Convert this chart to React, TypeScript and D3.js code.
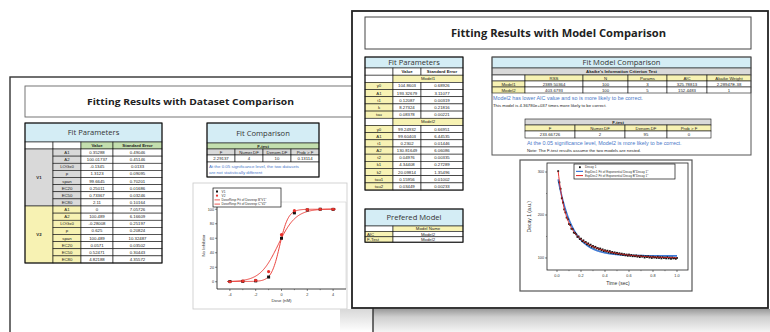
import React from 'react';
import * as d3 from 'd3';

// ---------- Data: back sheet (dataset comparison) ----------
const paramNames = ['A1', 'A2', 'LOGx0', 'p', 'span', 'EC20', 'EC50', 'EC80'];
const v1Values = ['0.35288', '100.01737', '-0.1345', '1.3123', '99.6645', '0.25011', '0.73367', '2.11'];
const v1Errors = ['0.49046', '0.45146', '0.0133', '0.09095', '0.70201', '0.01686', '0.03246', '0.10164'];
const v2Values = ['0', '100.489', '-0.28008', '0.625', '100.489', '0.0571', '0.52471', '4.82188'];
const v2Errors = ['7.05726', '6.16609', '0.25197', '0.20824', '10.32487', '0.03502', '0.30443', '4.35572'];

const fHeaders = ['F', 'Numer.DF', 'Denom.DF', 'Prob > F'];
const datasetF = ['2.29137', '4', '10', '0.13114'];
const datasetNote = ['At the 0.05 significance level, the two datasets', 'are not statistically different'];

const doseX = [-4, -3, -2, -1, 0, 1, 2, 3, 4];
const v1Resp = [0.3, 0.5, 1.2, 6.5, 60, 95, 99, 100, 99.8];
const v2Resp = [0, 1, 2, 14, 65, 98, 99.5, 100, 100];
const doseXTicks = [-4, -2, 0, 2, 4];
const doseYTicks = [0, 20, 40, 60, 80, 100];
const doseLegend = ['V1', 'V2', 'DoseResp Fit of Dosresp B"V1"', 'DoseResp Fit of Dosresp C"V2"'];

// ---------- Data: front sheet (model comparison) ----------
const model1Names = ['y0', 'A1', 't1', 'k', 'tau'];
const model1Values = ['104.8603', '193.32679', '0.12087', '8.27324', '0.08378'];
const model1Errors = ['0.68926', '3.11077', '0.00319', '0.21816', '0.00221'];
const model2Names = ['y0', 'A1', 't1', 'A2', 't2', 'k1', 'k2', 'tau1', 'tau2'];
const model2Values = ['99.24932', '99.60403', '0.2302', '130.81649', '0.04976', '4.34408', '20.09814', '0.15956', '0.03449'];
const model2Errors = ['0.66951', '6.44535', '0.01446', '6.06086', '0.00335', '0.27289', '1.35496', '0.01002', '0.00233'];

const aicHeaders = ['RSS', 'N', 'Params', 'AIC', 'Akaike Weight'];
const aicModels = ['Model1', 'Model2'];
const aicRows = [
  ['2389.50364', '100', '3', '325.78813', '2.28947E-38'],
  ['403.6793', '100', '5', '152.4483', '1'],
];
const modelF = ['233.66726', '2', '95', '0'];
const preferredRows = [['AIC', 'Model2'], ['F-Test', 'Model2']];

const decayY = [
  302, 276, 261, 239, 229, 213, 206, 194, 190, 179,
  177, 168, 167, 159, 158, 155, 149, 150, 144, 145,
  139, 141, 136, 137, 132, 134, 129, 131, 126, 128,
  124, 126, 122, 123, 120, 122, 118, 120, 116, 118,
  115, 117, 113, 116, 112, 114, 111, 113, 110, 112,
  109, 111, 108, 110, 107, 109, 106, 108, 105, 108,
  105, 107, 104, 106, 104, 106, 103, 105, 102, 105,
  103, 104, 101, 104, 102, 104, 101, 103, 100, 103,
  101, 102, 100, 103, 100, 102, 99, 102, 100, 101,
  99, 102, 99, 101, 98, 101, 99, 100, 98, 100,
];
const decayT = decayY.map((_, i) => (i + 1) / 100);
const decayXTicks = [0, 0.2, 0.4, 0.6, 0.8, 1.0];
const decayYTicks = [100, 200, 300];
const decayLegend = ['Decay 1', 'ExpDec1 Fit of Exponential Decay B"Decay 1"', 'ExpDec2 Fit of Exponential Decay B"Decay 1"'];

// ---------- styles ----------
const C = {
  blue: '#d4edf5',
  green: '#c3dfae',
  grey: '#d9d9d9',
  yellow: '#f7f2b3',
  note: '#4a78c8',
};
const CELL_FONT = 'Liberation Sans, Arial, sans-serif';
const HEAD_FONT = 'Open Sans, DejaVu Sans, sans-serif';

type CellOpt = { fill?: string; bold?: boolean; size?: number; color?: string; anchor?: string; font?: string; stroke?: string };

function Cell({ x0, x1, y0, y1, text, o = {} }: { x0: number; x1: number; y0: number; y1: number; text?: string; o?: CellOpt }) {
  const anchor = o.anchor || 'middle';
  const tx = anchor === 'middle' ? (x0 + x1) / 2 : x0 + 2;
  const size = o.size || 4.3;
  return (
    <g>
      <rect x={x0} y={y0} width={x1 - x0} height={y1 - y0} fill={o.fill || '#fff'} stroke={o.stroke || '#111'} strokeWidth={0.6} />
      {text !== undefined && (
        <text x={tx} y={(y0 + y1) / 2 + size * 0.36} fontSize={size} fontFamily={o.font || CELL_FONT}
          fontWeight={o.bold ? 700 : 400} fill={o.color || '#222'} textAnchor={anchor}>{text}</text>
      )}
    </g>
  );
}

function BackParamTable() {
  const cols = [25, 53, 81, 113, 162];
  const top = 123, headB = 142, colB = 149, rowH = 7.125;
  const rows: JSX.Element[] = [];
  const groups = [
    { name: 'V1', fill: C.grey, vals: v1Values, errs: v1Errors },
    { name: 'V2', fill: C.yellow, vals: v2Values, errs: v2Errors },
  ];
  groups.forEach((g, gi) => {
    const gy0 = colB + gi * 8 * rowH;
    rows.push(<Cell key={'g' + gi} x0={cols[0]} x1={cols[1]} y0={gy0} y1={gy0 + 8 * rowH} text={g.name} o={{ fill: g.fill, bold: true }} />);
    paramNames.forEach((p, i) => {
      const y0 = gy0 + i * rowH;
      rows.push(
        <g key={gi + '-' + i}>
          <Cell x0={cols[1]} x1={cols[2]} y0={y0} y1={y0 + rowH} text={p} o={{ fill: g.fill }} />
          <Cell x0={cols[2]} x1={cols[3]} y0={y0} y1={y0 + rowH} text={g.vals[i]} />
          <Cell x0={cols[3]} x1={cols[4]} y0={y0} y1={y0 + rowH} text={g.errs[i]} />
        </g>
      );
    });
  });
  return (
    <g>
      <Cell x0={cols[0]} x1={cols[4]} y0={top} y1={headB} text="Fit Parameters" o={{ fill: C.blue, size: 7.6, font: HEAD_FONT, color: '#333' }} />
      <Cell x0={cols[0]} x1={cols[1]} y0={headB} y1={colB} />
      <Cell x0={cols[1]} x1={cols[2]} y0={headB} y1={colB} />
      <Cell x0={cols[2]} x1={cols[3]} y0={headB} y1={colB} text="Value" o={{ fill: C.green, bold: true }} />
      <Cell x0={cols[3]} x1={cols[4]} y0={headB} y1={colB} text="Standard Error" o={{ fill: C.green, bold: true }} />
      {rows}
      <rect x={cols[0]} y={top} width={cols[4] - cols[0]} height={colB + 16 * rowH - top} fill="none" stroke="#111" strokeWidth={1} />
    </g>
  );
}

function BackCompTable() {
  const cols = [207, 235, 263, 291, 319];
  return (
    <g>
      <Cell x0={cols[0]} x1={cols[4]} y0={123} y1={143} text="Fit Comparison" o={{ fill: C.blue, size: 7.6, font: HEAD_FONT, color: '#333' }} />
      <Cell x0={cols[0]} x1={cols[4]} y0={143} y1={149} text="F-test" o={{ fill: C.green, bold: true }} />
      {fHeaders.map((h, i) => <Cell key={'h' + i} x0={cols[i]} x1={cols[i + 1]} y0={149} y1={155} text={h} o={{ fill: C.grey }} />)}
      {datasetF.map((v, i) => <Cell key={'v' + i} x0={cols[i]} x1={cols[i + 1]} y0={155} y1={162} text={v} />)}
      <rect x={cols[0]} y={162} width={cols[4] - cols[0]} height={15} fill="#fff" stroke="#111" strokeWidth={0.6} />
      {datasetNote.map((t, i) => (
        <text key={i} x={cols[0] + 2} y={167.5 + i * 6.5} fontSize={4.4} fontFamily={CELL_FONT} fill={C.note}>{t}</text>
      ))}
      <rect x={cols[0]} y={123} width={cols[4] - cols[0]} height={54} fill="none" stroke="#111" strokeWidth={1} />
    </g>
  );
}

function DoseGraph() {
  const x = d3.scaleLinear().domain([-5, 5]).range([217, 346]);
  const y = d3.scaleLinear().domain([-10, 110]).range([289, 202]);
  const fitParams = [v1Values, v2Values].map(v => ({ A1: +v[0], A2: +v[1], L: +v[2], p: +v[3] }));
  const xs = d3.range(-4.2, 4.21, 0.05);
  const line = d3.line<[number, number]>().x(d => x(d[0])).y(d => y(d[1])).curve(d3.curveLinear);
  return (
    <g>
      <rect x={193} y={183} width={154} height={126} fill="#fff" stroke="#c8c8c8" strokeWidth={0.8} />
      <line x1={x(-5)} x2={x(5)} y1={y(110)} y2={y(110)} stroke="#ccc" strokeWidth={0.6} />
      <line x1={x(5)} x2={x(5)} y1={y(110)} y2={y(-10)} stroke="#ccc" strokeWidth={0.6} />
      <line x1={x(-5)} x2={x(5)} y1={y(-10)} y2={y(-10)} stroke="#111" strokeWidth={0.8} />
      <line x1={x(-5)} x2={x(-5)} y1={y(-10)} y2={y(110)} stroke="#111" strokeWidth={0.8} />
      {doseXTicks.map(t => (
        <g key={'xt' + t}>
          <line x1={x(t)} x2={x(t)} y1={y(-10)} y2={y(-10) + 2} stroke="#111" strokeWidth={0.5} />
          <text x={x(t)} y={y(-10) + 6.5} fontSize={3.8} textAnchor="middle" fontFamily={CELL_FONT} fill="#333">{t}</text>
        </g>
      ))}
      {[-3, -1, 1, 3].map(t => <line key={'xm' + t} x1={x(t)} x2={x(t)} y1={y(-10)} y2={y(-10) + 1.2} stroke="#111" strokeWidth={0.4} />)}
      {doseYTicks.map(t => (
        <g key={'yt' + t}>
          <line x1={x(-5) - 2} x2={x(-5)} y1={y(t)} y2={y(t)} stroke="#111" strokeWidth={0.5} />
          <text x={x(-5) - 3} y={y(t) + 1.3} fontSize={3.8} textAnchor="end" fontFamily={CELL_FONT} fill="#333">{t}</text>
        </g>
      ))}
      <text transform={`translate(205,${y(50)}) rotate(-90)`} fontSize={4.3} textAnchor="middle" fontFamily={CELL_FONT} fill="#333">No Inhibitor</text>
      <text x={x(0)} y={302} fontSize={4.3} textAnchor="middle" fontFamily={CELL_FONT} fill="#333">Dose (nM)</text>
      {fitParams.map((f, i) => (
        <path key={'c' + i} d={line(xs.map(v => [v, f.A1 + (f.A2 - f.A1) / (1 + Math.pow(10, (f.L - v) * f.p))]) as any) || ''}
          fill="none" stroke="#e8302a" strokeWidth={0.9} />
      ))}
      {doseX.map((d, i) => (
        <rect key={'s' + i} x={x(d) - 1.5} y={y(v1Resp[i]) - 1.5} width={3} height={3} fill="#111" />
      ))}
      {doseX.map((d, i) => (
        <circle key={'r' + i} cx={x(d)} cy={y(v2Resp[i])} r={1.6} fill="#e8302a" />
      ))}
      <rect x={213} y={188} width={68} height={19} fill="#fff" stroke="#111" strokeWidth={0.7} />
      {doseLegend.map((t, i) => {
        const ly = 191.5 + i * 4.2;
        return (
          <g key={'lg' + i}>
            {i === 0 && <rect x={216} y={ly - 1} width={2} height={2} fill="#111" />}
            {i === 1 && <circle cx={217} cy={ly} r={1.1} fill="#e8302a" />}
            {i > 1 && <line x1={214.5} x2={220} y1={ly} y2={ly} stroke="#e8302a" strokeWidth={0.8} />}
            <text x={221.5} y={ly + 1.2} fontSize={3.2} fontFamily={CELL_FONT} fill="#333">{t}</text>
          </g>
        );
      })}
    </g>
  );
}

function FrontParamTable() {
  const cols = [365, 393, 421, 463];
  const rowH = 7.18;
  let y0 = 68;
  const out: JSX.Element[] = [];
  out.push(<Cell key="hb" x0={cols[0]} x1={cols[1]} y0={y0} y1={y0 + rowH} />);
  out.push(<Cell key="hv" x0={cols[1]} x1={cols[2]} y0={y0} y1={y0 + rowH} text="Value" o={{ bold: true }} />);
  out.push(<Cell key="he" x0={cols[2]} x1={cols[3]} y0={y0} y1={y0 + rowH} text="Standard Error" o={{ bold: true }} />);
  y0 += rowH;
  const models = [
    { name: 'Model1', names: model1Names, vals: model1Values, errs: model1Errors },
    { name: 'Model2', names: model2Names, vals: model2Values, errs: model2Errors },
  ];
  models.forEach((m, mi) => {
    out.push(<Cell key={'mb' + mi} x0={cols[0]} x1={cols[1]} y0={y0} y1={y0 + rowH} />);
    out.push(<Cell key={'mn' + mi} x0={cols[1]} x1={cols[3]} y0={y0} y1={y0 + rowH} text={m.name} o={{ fill: C.yellow }} />);
    y0 += rowH;
    m.names.forEach((n, i) => {
      out.push(
        <g key={mi + '-' + i}>
          <Cell x0={cols[0]} x1={cols[1]} y0={y0} y1={y0 + rowH} text={n} o={{ fill: C.yellow }} />
          <Cell x0={cols[1]} x1={cols[2]} y0={y0} y1={y0 + rowH} text={m.vals[i]} />
          <Cell x0={cols[2]} x1={cols[3]} y0={y0} y1={y0 + rowH} text={m.errs[i]} />
        </g>
      );
      y0 += rowH;
    });
  });
  return (
    <g>
      <Cell x0={cols[0]} x1={cols[3]} y0={57} y1={68} text="Fit Parameters" o={{ fill: C.blue, size: 7.6, font: HEAD_FONT, color: '#333' }} />
      {out}
      <rect x={cols[0]} y={57} width={cols[3] - cols[0]} height={y0 - 57} fill="none" stroke="#111" strokeWidth={1} />
    </g>
  );
}

function PreferredTable() {
  const cols = [365, 393, 463];
  const rh = 5.4;
  return (
    <g>
      <Cell x0={cols[0]} x1={cols[2]} y0={209} y1={226} text="Prefered Model" o={{ fill: C.blue, size: 7.6, font: HEAD_FONT, color: '#333' }} />
      <Cell x0={cols[0]} x1={cols[1]} y0={226} y1={226 + rh} />
      <Cell x0={cols[1]} x1={cols[2]} y0={226} y1={226 + rh} text="Model Name" o={{ fill: C.yellow }} />
      {preferredRows.map((r, i) => (
        <g key={i}>
          <Cell x0={cols[0]} x1={cols[1]} y0={226 + (i + 1) * rh} y1={226 + (i + 2) * rh} text={r[0]} o={{ fill: C.yellow, anchor: 'start' }} />
          <Cell x0={cols[1]} x1={cols[2]} y0={226 + (i + 1) * rh} y1={226 + (i + 2) * rh} text={r[1]} />
        </g>
      ))}
      <rect x={cols[0]} y={209} width={cols[2] - cols[0]} height={17 + 3 * rh} fill="none" stroke="#111" strokeWidth={1} />
    </g>
  );
}

function ModelCompTable() {
  const cols = [492, 525, 583, 628, 667, 707, 751];
  const fc = [525, 575, 625, 667, 711];
  return (
    <g>
      <rect x={492} y={57} width={259} height={98} fill="#fff" />
      <Cell x0={492} x1={751} y0={57} y1={68} text="Fit Model Comparison" o={{ fill: C.blue, size: 7.6, font: HEAD_FONT, color: '#333' }} />
      <Cell x0={492} x1={751} y0={68} y1={75} text="Akaike's Information Criterion Test" o={{ fill: C.grey, bold: true }} />
      <Cell x0={cols[0]} x1={cols[1]} y0={75} y1={81} />
      {aicHeaders.map((h, i) => <Cell key={'ah' + i} x0={cols[i + 1]} x1={cols[i + 2]} y0={75} y1={81} text={h} o={{ fill: C.yellow }} />)}
      {aicRows.map((r, ri) => (
        <g key={'ar' + ri}>
          <Cell x0={cols[0]} x1={cols[1]} y0={81 + ri * 6} y1={87 + ri * 6} text={aicModels[ri]} o={{ fill: C.yellow }} />
          {r.map((v, i) => <Cell key={i} x0={cols[i + 1]} x1={cols[i + 2]} y0={81 + ri * 6} y1={87 + ri * 6} text={v} />)}
        </g>
      ))}
      <text x={493} y={100} fontSize={5.4} fontFamily={CELL_FONT} fill={C.note}>Model2 has lower AIC value and so is more likely to be correct.</text>
      <text x={493} y={107} fontSize={4.3} fontFamily={CELL_FONT} fill="#222">This model is 4.36780e+037 times more likely to be correct.</text>
      <Cell x0={fc[0]} x1={fc[4]} y0={119} y1={125} text="F-test" o={{ fill: C.grey, bold: true }} />
      {fHeaders.map((h, i) => <Cell key={'fh' + i} x0={fc[i]} x1={fc[i + 1]} y0={125} y1={131} text={h} o={{ fill: C.yellow }} />)}
      {modelF.map((v, i) => <Cell key={'fv' + i} x0={fc[i]} x1={fc[i + 1]} y0={131} y1={138} text={v} />)}
      <text x={527} y={145} fontSize={5.4} fontFamily={CELL_FONT} fill={C.note}>At the 0.05 significance level, Model2 is more likely to be correct.</text>
      <text x={527} y={152} fontSize={4.3} fontFamily={CELL_FONT} fill="#222">Note: The F-test results assume the two models are nested.</text>
      <rect x={492} y={57} width={259} height={98} fill="none" stroke="#555" strokeWidth={1} />
    </g>
  );
}

function DecayGraph() {
  const x = d3.scaleLinear().domain([-0.0833, 1.0917]).range([547, 688]);
  const y = d3.scaleLinear().domain([72, 321]).range([270, 163]);
  const m1 = model1Values.map(Number);
  const m2 = model2Values.map(Number);
  const ts = d3.range(0.01, 1.001, 0.005);
  const line = d3.line<number>().x(t => x(t));
  const f1 = (t: number) => m1[0] + m1[1] * Math.exp(-t / m1[2]);
  const f2 = (t: number) => m2[0] + m2[1] * Math.exp(-t / m2[2]) + m2[3] * Math.exp(-t / m2[4]);
  return (
    <g>
      <rect x={520} y={160} width={172} height={131} fill="#fff" stroke="#555" strokeWidth={1.2} />
      <rect x={547} y={163} width={141} height={107} fill="none" stroke="#222" strokeWidth={0.8} />
      {decayXTicks.map(t => (
        <g key={'xt' + t}>
          <line x1={x(t)} x2={x(t)} y1={270} y2={272} stroke="#111" strokeWidth={0.5} />
          <text x={x(t)} y={277} fontSize={3.8} textAnchor="middle" fontFamily={CELL_FONT} fill="#333">{t.toFixed(1)}</text>
        </g>
      ))}
      {[0.1, 0.3, 0.5, 0.7, 0.9].map(t => <line key={'xm' + t} x1={x(t)} x2={x(t)} y1={270} y2={271.2} stroke="#111" strokeWidth={0.4} />)}
      {decayYTicks.map(t => (
        <g key={'yt' + t}>
          <line x1={545} x2={547} y1={y(t)} y2={y(t)} stroke="#111" strokeWidth={0.5} />
          <text x={544} y={y(t) + 1.3} fontSize={3.8} textAnchor="end" fontFamily={CELL_FONT} fill="#333">{t}</text>
        </g>
      ))}
      {[150, 250].map(t => <line key={'ym' + t} x1={546} x2={547} y1={y(t)} y2={y(t)} stroke="#111" strokeWidth={0.4} />)}
      <text transform={`translate(531,${y(196)}) rotate(-90)`} fontSize={5} textAnchor="middle" fontFamily={CELL_FONT} fill="#333">Decay 1 (a.u.)</text>
      <text x={618} y={285} fontSize={5} textAnchor="middle" fontFamily={CELL_FONT} fill="#333">Time (sec)</text>
      <path d={line.y(t => y(f1(t)))(ts) || ''} fill="none" stroke="#3f7ad6" strokeWidth={1.6} />
      {decayT.map((t, i) => (
        <rect key={i} x={x(t) - 0.9} y={y(decayY[i]) - 0.9} width={1.8} height={1.8} fill="#111" />
      ))}
      <path d={line.y(t => y(f2(t)))(ts) || ''} fill="none" stroke="#e0201e" strokeWidth={0.9} />
      <rect x={574} y={164} width={101} height={15} fill="#fff" stroke="#111" strokeWidth={0.7} />
      {decayLegend.map((t, i) => {
        const ly = 167.2 + i * 4.2;
        return (
          <g key={'lg' + i}>
            {i === 0 && <rect x={579} y={ly - 0.9} width={1.8} height={1.8} fill="#111" />}
            {i === 1 && <line x1={576} x2={583} y1={ly} y2={ly} stroke="#3f7ad6" strokeWidth={1.2} />}
            {i === 2 && <line x1={576} x2={583} y1={ly} y2={ly} stroke="#e0201e" strokeWidth={1} />}
            <text x={585} y={ly + 1.1} fontSize={3.1} fontFamily={CELL_FONT} fill="#333">{t}</text>
          </g>
        );
      })}
    </g>
  );
}

export default function App() {
  return (
    <svg width={770} height={332} style={{ position: 'absolute', left: 0, top: 0, background: '#fff' }}>
      <defs>
        <linearGradient id="shadowV" x1="0" y1="0" x2="0" y2="1">
          <stop offset="0" stopColor="#9a9a9a" />
          <stop offset="0.35" stopColor="#cfcfcf" />
          <stop offset="1" stopColor="#f4f4f4" />
        </linearGradient>
        <linearGradient id="shadowL" x1="0" y1="0" x2="0" y2="1">
          <stop offset="0" stopColor="#d8d8d8" />
          <stop offset="1" stopColor="#ffffff" />
        </linearGradient>
      </defs>
      <rect x={0} y={0} width={770} height={332} fill="#fff" />
      {/* back sheet */}
      <rect x={10} y={77} width={363} height={270} fill="#fff" stroke="#333" strokeWidth={1.4} />
      <rect x={25} y={86} width={340} height={31} fill="#fff" stroke="#666" strokeWidth={0.9} />
      <text x={190.5} y={105} fontSize={9.6} fontWeight={700} textAnchor="middle" fontFamily={HEAD_FONT} fill="#222" textLength={207} lengthAdjust="spacingAndGlyphs">Fitting Results with Dataset Comparison</text>
      <BackParamTable />
      <BackCompTable />
      <DoseGraph />
      {/* shadow of front sheet */}
      <rect x={373} y={309} width={397} height={23} fill="url(#shadowV)" />
      <rect x={340} y={309} width={33} height={23} fill="url(#shadowL)" />
      <line x1={373} x2={373} y1={309} y2={332} stroke="#333" strokeWidth={1.4} />
      {/* front sheet */}
      <rect x={352} y={11} width={416} height={297} fill="#fff" stroke="#222" strokeWidth={1.8} />
      <rect x={365} y={17} width={386} height={32} fill="#fff" stroke="#444" strokeWidth={1} />
      <text x={558.5} y={37} fontSize={10.5} fontWeight={700} textAnchor="middle" fontFamily={HEAD_FONT} fill="#222" textLength={215} lengthAdjust="spacingAndGlyphs">Fitting Results with Model Comparison</text>
      <FrontParamTable />
      <PreferredTable />
      <ModelCompTable />
      <DecayGraph />
    </svg>
  );
}
